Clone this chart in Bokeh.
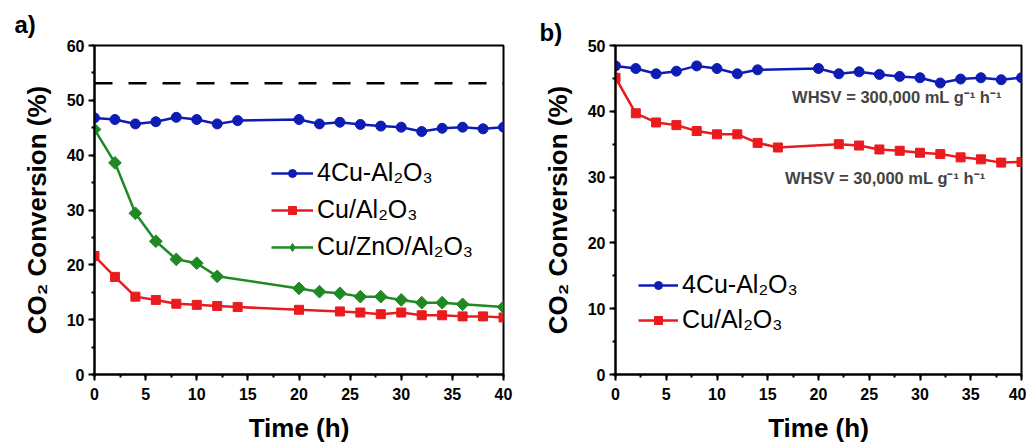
import math
from bokeh.plotting import figure
from bokeh.layouts import row
from bokeh.models import Range1d, SingleIntervalTicker, Span, Label, Legend, LegendItem
from bokeh.embed import file_html
from bokeh.resources import INLINE

# ---------------- data ----------------
# Panel a
a_cu4_t = [0, 2, 4, 6, 8, 10, 12, 14, 20, 22, 24, 26, 28, 30, 32, 34, 36, 38, 40]
a_cu4_y = [46.8, 46.5, 45.7, 46.1, 46.9, 46.5, 45.7, 46.3, 46.5, 45.7, 46.0, 45.6, 45.3, 45.1, 44.3, 44.9, 45.1, 44.8, 45.1]
a_cual_t = [0, 2, 4, 6, 8, 10, 12, 14, 20, 24, 26, 28, 30, 32, 34, 36, 38, 40]
a_cual_y = [21.6, 17.8, 14.2, 13.6, 12.9, 12.7, 12.5, 12.3, 11.8, 11.5, 11.3, 11.0, 11.3, 10.8, 10.8, 10.6, 10.6, 10.4]
a_cuzn_t = [0, 2, 4, 6, 8, 10, 12, 20, 22, 24, 26, 28, 30, 32, 34, 36, 40]
a_cuzn_y = [44.7, 38.6, 29.4, 24.3, 21.0, 20.3, 17.9, 15.7, 15.1, 14.8, 14.2, 14.2, 13.6, 13.1, 13.1, 12.8, 12.3]
a_equilibrium = 53.1

# Panel b
b_cu4_t = [0, 2, 4, 6, 8, 10, 12, 14, 20, 22, 24, 26, 28, 30, 32, 34, 36, 38, 40]
b_cu4_y = [46.9, 46.5, 45.7, 46.1, 46.9, 46.5, 45.7, 46.3, 46.5, 45.7, 46.0, 45.6, 45.3, 45.1, 44.3, 44.9, 45.1, 44.8, 45.1]
b_cual_t = [0, 2, 4, 6, 8, 10, 12, 14, 16, 22, 24, 26, 28, 30, 32, 34, 36, 38, 40]
b_cual_y = [45.1, 39.7, 38.3, 37.9, 37.0, 36.5, 36.5, 35.2, 34.5, 35.0, 34.8, 34.2, 34.0, 33.7, 33.5, 33.0, 32.7, 32.2, 32.3]

lab_cu4 = "4Cu-Al\u2082O\u2083"
lab_cual = "Cu/Al\u2082O\u2083"
lab_cuzn = "Cu/ZnO/Al\u2082O\u2083"
x_label = "Time (h)"
y_label = "CO\u2082 Conversion (%)"
whsv_hi = "WHSV = 300,000 mL g\u207b\u00b9 h\u207b\u00b9"
whsv_lo = "WHSV = 30,000 mL g\u207b\u00b9 h\u207b\u00b9"

BLUE = "#0f1cb4"
RED = "#ea1b1e"
GREEN = "#1f8a24"
FONT = "Liberation Sans"


def style(p, ymax, title_offset, title_standoff):
    p.x_range = Range1d(0, 40)
    p.y_range = Range1d(0, ymax)
    p.xgrid.visible = False
    p.ygrid.visible = False
    p.outline_line_color = "black"
    p.outline_line_width = 2
    p.outline_line_alpha = 1
    p.xaxis.ticker = SingleIntervalTicker(interval=5, num_minor_ticks=2)
    p.yaxis.ticker = SingleIntervalTicker(interval=10, num_minor_ticks=2)
    for ax in (p.xaxis, p.yaxis):
        ax.axis_line_width = 2
        ax.axis_line_color = "black"
        ax.major_tick_line_width = 2
        ax.minor_tick_line_width = 2
        ax.major_tick_out = 6
        ax.major_tick_in = 0
        ax.minor_tick_out = 3
        ax.minor_tick_in = 0
        ax.major_label_text_font = FONT
        ax.major_label_text_font_style = "bold"
        ax.major_label_text_font_size = "16px"
        ax.major_label_text_color = "black"
        ax.axis_label_text_font = FONT
        ax.axis_label_text_font_style = "bold"
        ax.axis_label_text_font_size = "26px"
        ax.axis_label_text_color = "black"
    p.xaxis.major_label_standoff = 7
    p.yaxis.major_label_standoff = 4
    p.xaxis.axis_label = x_label
    p.yaxis.axis_label = y_label
    p.xaxis.axis_label_standoff = 10
    p.yaxis.axis_label_standoff = 12
    p.background_fill_color = "white"
    p.border_fill_color = "white"
    p.title.align = "left"
    p.title.offset = title_offset
    p.title.standoff = title_standoff
    p.title.text_font = FONT
    p.title.text_font_style = "bold"
    p.title.text_font_size = "24px"
    p.title.text_color = "black"


def series(p, t, y, color, marker, size, angle=0.0):
    r1 = p.line(t, y, line_color=color, line_width=2.5)
    r2 = p.scatter(t, y, marker=marker, size=size, angle=angle, fill_color=color, line_color=color)
    return [r1, r2]


def legend_proxy(p, color, marker, size=8):
    # off-range renderers, used only to draw smaller legend symbols
    r1 = p.line([-100, -99], [-100, -100], line_color=color, line_width=2.5)
    r2 = p.scatter([-100], [-100], marker=marker, size=size, fill_color=color, line_color=color)
    return [r1, r2]


DIAM = math.pi / 4
H = 445

# ---------------- panel a ----------------
pa = figure(width=520, height=H, output_backend="svg", toolbar_location=None, title="a)",
            min_border_left=94, min_border_right=17, min_border_top=45, min_border_bottom=71)
style(pa, 60, -80, 16)
pa.add_layout(Span(location=a_equilibrium, dimension="width", line_color="black",
                   line_width=2.5, line_dash="18 16"))
series(pa, a_cu4_t, a_cu4_y, BLUE, "circle", 10)
series(pa, a_cual_t, a_cual_y, RED, "square", 9)
series(pa, a_cuzn_t, a_cuzn_y, GREEN, "square", 9, DIAM)
la1 = legend_proxy(pa, BLUE, "circle")
la2 = legend_proxy(pa, RED, "square")
la3 = legend_proxy(pa, GREEN, "diamond")
leg_a = Legend(items=[LegendItem(label=lab_cu4, renderers=la1),
                      LegendItem(label=lab_cual, renderers=la2),
                      LegendItem(label=lab_cuzn, renderers=la3)],
               location=(177, 109), border_line_color=None, background_fill_alpha=0,
               padding=0, margin=0, spacing=0, glyph_width=42, glyph_height=20,
               label_height=37, label_standoff=4, label_text_font=FONT,
               label_text_font_size="25px", label_text_color="black")
pa.add_layout(leg_a)

# ---------------- panel b ----------------
pb = figure(width=506, height=H, output_backend="svg", toolbar_location=None, title="b)",
            min_border_left=95, min_border_right=5, min_border_top=45, min_border_bottom=71)
style(pb, 50, -76, 0)
series(pb, b_cu4_t, b_cu4_y, BLUE, "circle", 10)
series(pb, b_cual_t, b_cual_y, RED, "square", 9)
lb1 = legend_proxy(pb, BLUE, "circle")
lb2 = legend_proxy(pb, RED, "square")
leg_b = Legend(items=[LegendItem(label=lab_cu4, renderers=lb1),
                      LegendItem(label=lab_cual, renderers=lb2)],
               location=(23, 37), border_line_color=None, background_fill_alpha=0,
               padding=0, margin=0, spacing=0, glyph_width=40, glyph_height=20,
               label_height=35, label_standoff=4, label_text_font=FONT,
               label_text_font_size="25px", label_text_color="black")
pb.add_layout(leg_b)
pb.add_layout(Label(x=17.4, y=42.1, text=whsv_hi, text_font=FONT, text_font_style="bold",
                    text_font_size="16.5px", text_align="left", text_baseline="middle"))
pb.add_layout(Label(x=16.7, y=29.8, text=whsv_lo, text_font=FONT, text_font_style="bold",
                    text_font_size="16.5px", text_align="left", text_baseline="middle"))

layout = row(pa, pb)
open("out.html", "w").write(file_html(layout, INLINE))
